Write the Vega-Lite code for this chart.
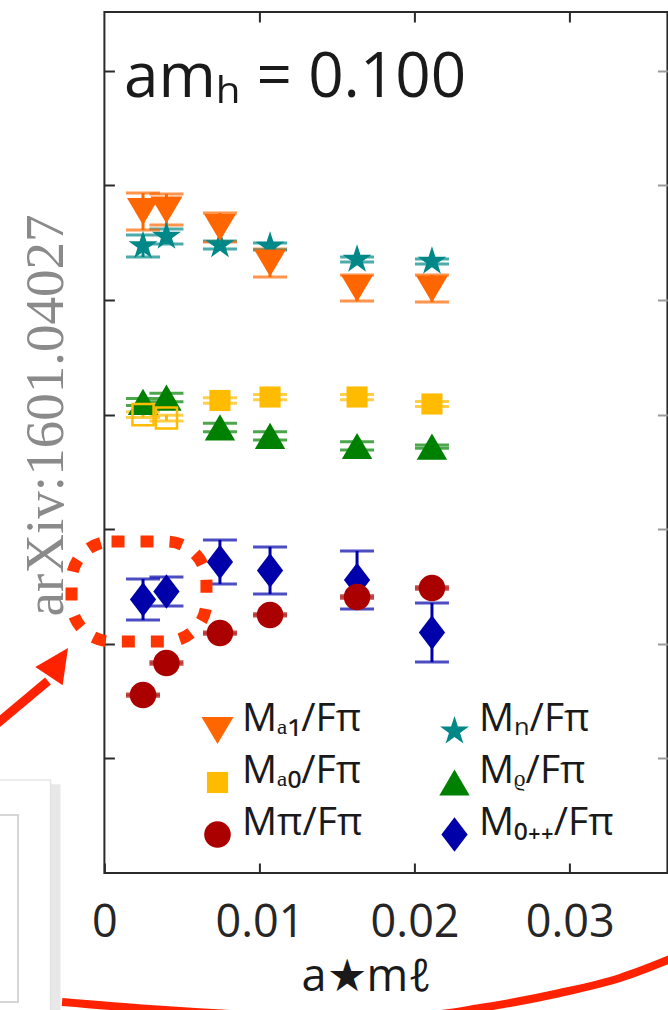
{
  "$schema": "https://vega.github.io/schema/vega-lite/v6.json",
  "width": 563,
  "height": 861,
  "autosize": {"type": "none"},
  "padding": {"left": 104.4, "top": 12, "right": 0.6, "bottom": 137},
  "background": "white",
  "config": {
    "font": "Open Sans",
    "view": {"stroke": "#2a2a2a", "strokeWidth": 2},
    "axis": {"grid": false, "domain": false, "tickColor": "#2a2a2a", "tickWidth": 2, "tickSize": -10}
  },
  "datasets": {
    "pts": [
      {"series": "M₀₊₊/Fπ", "x": 0.00249, "y": 4.773, "lo": 4.415, "hi": 5.131},
      {"series": "M₀₊₊/Fπ", "x": 0.0040, "y": 4.913, "lo": 4.660, "hi": 5.166},
      {"series": "M₀₊₊/Fπ", "x": 0.00745, "y": 5.428, "lo": 5.044, "hi": 5.812},
      {"series": "M₀₊₊/Fπ", "x": 0.01068, "y": 5.279, "lo": 4.869, "hi": 5.690},
      {"series": "M₀₊₊/Fπ", "x": 0.01629, "y": 5.113, "lo": 4.607, "hi": 5.620},
      {"series": "M₀₊₊/Fπ", "x": 0.02112, "y": 4.197, "lo": 3.682, "hi": 4.712},
      {"series": "Mπ/Fπ", "x": 0.00249, "y": 3.106, "lo": 3.086, "hi": 3.126},
      {"series": "Mπ/Fπ", "x": 0.0040, "y": 3.665, "lo": 3.645, "hi": 3.685},
      {"series": "Mπ/Fπ", "x": 0.00745, "y": 4.188, "lo": 4.168, "hi": 4.208},
      {"series": "Mπ/Fπ", "x": 0.01068, "y": 4.503, "lo": 4.483, "hi": 4.523},
      {"series": "Mπ/Fπ", "x": 0.01629, "y": 4.817, "lo": 4.797, "hi": 4.837},
      {"series": "Mπ/Fπ", "x": 0.02112, "y": 4.974, "lo": 4.954, "hi": 4.994},
      {"series": "Mᵨ/Fπ", "x": 0.00249, "y": 8.220, "lo": 8.160, "hi": 8.280},
      {"series": "Mᵨ/Fπ", "x": 0.0040, "y": 8.298, "lo": 8.225, "hi": 8.372},
      {"series": "Mᵨ/Fπ", "x": 0.00745, "y": 7.775, "lo": 7.702, "hi": 7.848},
      {"series": "Mᵨ/Fπ", "x": 0.01068, "y": 7.627, "lo": 7.557, "hi": 7.702},
      {"series": "Mᵨ/Fπ", "x": 0.01629, "y": 7.452, "lo": 7.382, "hi": 7.527},
      {"series": "Mᵨ/Fπ", "x": 0.02112, "y": 7.440, "lo": 7.412, "hi": 7.470},
      {"series": "Mₐ₀/Fπ", "x": 0.00249, "y": 8.000, "lo": 7.950, "hi": 8.050, "open": true},
      {"series": "Mₐ₀/Fπ", "x": 0.0040, "y": 7.940, "lo": 7.890, "hi": 7.990, "open": true},
      {"series": "Mₐ₀/Fπ", "x": 0.00745, "y": 8.246, "lo": 8.197, "hi": 8.295},
      {"series": "Mₐ₀/Fπ", "x": 0.01068, "y": 8.307, "lo": 8.260, "hi": 8.350},
      {"series": "Mₐ₀/Fπ", "x": 0.01629, "y": 8.307, "lo": 8.260, "hi": 8.350},
      {"series": "Mₐ₀/Fπ", "x": 0.02112, "y": 8.185, "lo": 8.140, "hi": 8.230},
      {"series": "Mₙ/Fπ", "x": 0.00249, "y": 10.942, "lo": 10.750, "hi": 11.134},
      {"series": "Mₙ/Fπ", "x": 0.0040, "y": 11.108, "lo": 10.977, "hi": 11.239},
      {"series": "Mₙ/Fπ", "x": 0.00745, "y": 10.960, "lo": 10.890, "hi": 11.030},
      {"series": "Mₙ/Fπ", "x": 0.01068, "y": 10.934, "lo": 10.873, "hi": 10.995},
      {"series": "Mₙ/Fπ", "x": 0.01629, "y": 10.707, "lo": 10.663, "hi": 10.750},
      {"series": "Mₙ/Fπ", "x": 0.02112, "y": 10.672, "lo": 10.628, "hi": 10.716},
      {"series": "Mₐ₁/Fπ", "x": 0.00249, "y": 11.545, "lo": 11.222, "hi": 11.867},
      {"series": "Mₐ₁/Fπ", "x": 0.0040, "y": 11.571, "lo": 11.309, "hi": 11.850},
      {"series": "Mₐ₁/Fπ", "x": 0.00745, "y": 11.265, "lo": 11.012, "hi": 11.518},
      {"series": "Mₐ₁/Fπ", "x": 0.01068, "y": 10.646, "lo": 10.401, "hi": 10.890},
      {"series": "Mₐ₁/Fπ", "x": 0.01629, "y": 10.201, "lo": 9.983, "hi": 10.436},
      {"series": "Mₐ₁/Fπ", "x": 0.02112, "y": 10.192, "lo": 9.965, "hi": 10.436}
    ],
    "curve": [
      {"x": -0.00273, "y": -2.251},
      {"x": 0.00294, "y": -2.374},
      {"x": 0.00939, "y": -2.478},
      {"x": 0.01455, "y": -2.531},
      {"x": 0.02035, "y": -2.496},
      {"x": 0.02422, "y": -2.356},
      {"x": 0.02937, "y": -2.094},
      {"x": 0.03324, "y": -1.832},
      {"x": 0.03711, "y": -1.431}
    ]
  },
  "resolve": {"axis": {"x": "independent", "y": "independent"}},
  "layer": [
    {
      "data": {"values": [{}]},
      "mark": {"type": "rect", "color": "#ffffff", "stroke": "#e6e6e6", "strokeWidth": 1.5},
      "encoding": {
        "x": {"datum": -0.0075, "type": "quantitative", "axis": null},
        "x2": {"datum": -0.00347},
        "y": {"datum": 1.623, "type": "quantitative", "axis": null},
        "y2": {"datum": -2.8}
      }
    },
    {
      "data": {"values": [{}]},
      "mark": {"type": "rect", "color": "#dedede", "opacity": 0.7},
      "encoding": {
        "x": {"datum": -0.00347, "type": "quantitative", "axis": null},
        "x2": {"datum": -0.00283},
        "y": {"datum": 1.55, "type": "quantitative", "axis": null},
        "y2": {"datum": -2.8}
      }
    },
    {
      "data": {"values": [{}]},
      "mark": {"type": "rect", "filled": false, "color": "#d6d6d6", "strokeWidth": 2},
      "encoding": {
        "x": {"datum": -0.0075, "type": "quantitative", "axis": null},
        "x2": {"datum": -0.00557},
        "y": {"datum": 1.012, "type": "quantitative", "axis": null},
        "y2": {"datum": -2.251}
      }
    },
    {
      "data": {"name": "pts"},
      "mark": {"type": "rule", "strokeWidth": 3},
      "encoding": {
        "x": {"field": "x", "type": "quantitative", "scale": {"domain": [0, 0.0363], "nice": false, "zero": false},
          "axis": {"orient": "top", "values": [0.01, 0.02, 0.03], "labels": false, "title": null, "tickSize": -10}},
        "y": {"field": "lo", "type": "quantitative", "scale": {"domain": [0, 15.026], "nice": false, "zero": false},
          "axis": {"orient": "right", "values": [2, 4, 6, 8, 10, 12, 14], "labels": false, "title": null, "tickSize": -10, "tickColor": "#9a9a9a"}},
        "y2": {"field": "hi"},
        "stroke": {"field": "series", "type": "nominal", "legend": null,
          "scale": {"domain": ["M₀₊₊/Fπ", "Mπ/Fπ", "Mᵨ/Fπ", "Mₐ₀/Fπ", "Mₙ/Fπ", "Mₐ₁/Fπ"],
                    "range": ["#0000AA", "#AA0000", "#008000", "#FFBB00", "#008888", "#FF6600"]}}
      }
    },
    {
      "data": {"name": "pts"},
      "mark": {"type": "tick", "orient": "horizontal", "size": 34, "thickness": 3},
      "encoding": {
        "x": {"field": "x", "type": "quantitative", "axis": null},
        "y": {"field": "hi", "type": "quantitative", "axis": null},
        "fill": {"field": "series", "type": "nominal", "legend": null,
          "scale": {"domain": ["Mπ/Fπ", "M₀₊₊/Fπ", "Mᵨ/Fπ", "Mₐ₀/Fπ", "Mₙ/Fπ", "Mₐ₁/Fπ"],
                    "range": ["#AA0000", "#0000AA", "#008000", "#FFBB00", "#008888", "#FF6600"]}}
      }
    },
    {
      "data": {"name": "pts"},
      "mark": {"type": "tick", "orient": "horizontal", "size": 34, "thickness": 3},
      "encoding": {
        "x": {"field": "x", "type": "quantitative", "axis": null},
        "y": {"field": "lo", "type": "quantitative", "axis": null},
        "fill": {"field": "series", "type": "nominal", "legend": null}
      }
    },
    {
      "data": {"name": "pts"},
      "transform": [{"filter": "datum.open !== true"}],
      "mark": {"type": "point", "filled": true, "opacity": 1, "size": 1024, "strokeWidth": 0},
      "encoding": {
        "x": {"field": "x", "type": "quantitative",
          "axis": {"orient": "bottom", "values": [0, 0.01, 0.02, 0.03],
            "labelExpr": "datum.value == 0 ? '0' : format(datum.value, '.2f') + '\u2009\u2009'",
            "labelFontSize": 45, "labelColor": "#262626", "labelPadding": 73, "labelBaseline": "alphabetic", "labelFlush": false,
            "tickSize": -10,
            "title": "a★mℓ", "titleFontSize": 45, "titleFontWeight": "normal", "titleColor": "#1a1a1a",
            "titleX": 261.6, "titleY": 117, "titleBaseline": "alphabetic", "titleAlign": "center"}},
        "y": {"field": "y", "type": "quantitative",
          "axis": {"orient": "left", "values": [2, 4, 6, 8, 10, 12, 14], "labels": false, "tickSize": -10,
            "title": "arXiv:1601.04027", "titleFont": "Liberation Serif", "titleFontSize": 55, "titleFontWeight": "normal",
            "titleColor": "#8a8a8a", "titleAngle": 270, "titleX": -42, "titleY": 403, "titleAlign": "center", "titleBaseline": "alphabetic"}},
        "color": {"field": "series", "type": "nominal",
          "scale": {"domain": ["Mₐ₁/Fπ", "Mₐ₀/Fπ", "Mπ/Fπ", "Mₙ/Fπ", "Mᵨ/Fπ", "M₀₊₊/Fπ"],
                    "range": ["#FF6600", "#FFBB00", "#AA0000", "#008888", "#008000", "#0000AA"]},
          "legend": {"title": null, "orient": "none", "legendX": 93.6, "legendY": 699, "columns": 2,
            "symbolSize": 1024, "labelFontSize": 39, "labelFont": "Open Sans", "labelColor": "#1a1a1a",
            "labelBaseline": "alphabetic", "labelOffset": 5, "rowPadding": 7, "columnPadding": 72,
            "labelLimit": 400, "padding": 0, "symbolStrokeWidth": 0, "symbolOpacity": 1}},
        "shape": {"field": "series", "type": "nominal",
          "scale": {"domain": ["Mₐ₁/Fπ", "Mₐ₀/Fπ", "Mπ/Fπ", "Mₙ/Fπ", "Mᵨ/Fπ", "M₀₊₊/Fπ"],
                    "range": [
                      "M-1,-0.84L1,-0.84L0,0.84Z",
                      "M-0.66,-0.66L0.66,-0.66L0.66,0.66L-0.66,0.66Z",
                      "M0.83,0A0.83,0.83,0,1,1,-0.83,0A0.83,0.83,0,1,1,0.83,0Z",
                      "M0,-0.95L0.2135,-0.2939L0.9035,-0.2936L0.3455,0.1122L0.5584,0.7686L0,0.3632L-0.5584,0.7686L-0.3455,0.1122L-0.9035,-0.2936L-0.2135,-0.2939Z",
                      "M0,-0.82L0.95,0.82L-0.95,0.82Z",
                      "M0,-1.08L0.82,0L0,1.08L-0.82,0Z"
                    ]},
          "legend": {"title": null, "orient": "none", "legendX": 93.6, "legendY": 699, "columns": 2,
            "symbolSize": 1024, "labelFontSize": 39, "labelFont": "Open Sans", "labelColor": "#1a1a1a",
            "labelBaseline": "alphabetic", "labelOffset": 5, "rowPadding": 7, "columnPadding": 72,
            "labelLimit": 400, "padding": 0, "symbolStrokeWidth": 0, "symbolOpacity": 1}}
      }
    },
    {
      "data": {"name": "pts"},
      "transform": [{"filter": "datum.open === true"}],
      "mark": {"type": "point", "filled": false, "opacity": 1, "size": 1024, "strokeWidth": 2.5, "color": "#FFBB00",
        "shape": "M-0.66,-0.66L0.66,-0.66L0.66,0.66L-0.66,0.66Z"},
      "encoding": {
        "x": {"field": "x", "type": "quantitative", "axis": null},
        "y": {"field": "y", "type": "quantitative", "axis": null}
      }
    },
    {
      "data": {"values": [{"label": "amₕ = 0.100"}]},
      "mark": {"type": "text", "font": "Open Sans", "fontSize": 62, "align": "left", "baseline": "alphabetic", "color": "#1a1a1a"},
      "encoding": {
        "x": {"datum": 0.00126, "type": "quantitative", "axis": null},
        "y": {"datum": 13.54, "type": "quantitative", "axis": null},
        "text": {"field": "label"}
      }
    },
    {
      "data": {"values": [{}]},
      "mark": {"type": "rect", "filled": false, "color": "#FF3300", "strokeWidth": 12, "strokeDash": [13, 16], "cornerRadius": 40},
      "encoding": {
        "x": {"datum": -0.00212, "type": "quantitative", "axis": null},
        "x2": {"datum": 0.00658},
        "y": {"datum": 5.785, "type": "quantitative", "axis": null},
        "y2": {"datum": 4.04}
      }
    },
    {
      "data": {"values": [{}]},
      "mark": {"type": "rule", "color": "#FF2200", "strokeWidth": 9},
      "encoding": {
        "x": {"datum": -0.0075, "type": "quantitative", "axis": null},
        "x2": {"datum": -0.00364},
        "y": {"datum": 2.478, "type": "quantitative", "axis": null},
        "y2": {"datum": 3.351}
      }
    },
    {
      "data": {"values": [{}]},
      "mark": {"type": "point", "filled": true, "opacity": 1, "color": "#FF2200", "size": 1156, "angle": 34,
        "shape": "M0,-1L0.97,1L-0.97,1Z"},
      "encoding": {
        "x": {"datum": -0.00296, "type": "quantitative", "axis": null},
        "y": {"datum": 3.682, "type": "quantitative", "axis": null}
      }
    },
    {
      "data": {"name": "curve"},
      "mark": {"type": "line", "color": "#FF2200", "strokeWidth": 8, "interpolate": "monotone"},
      "encoding": {
        "x": {"field": "x", "type": "quantitative", "axis": null},
        "y": {"field": "y", "type": "quantitative", "axis": null}
      }
    }
  ]
}
